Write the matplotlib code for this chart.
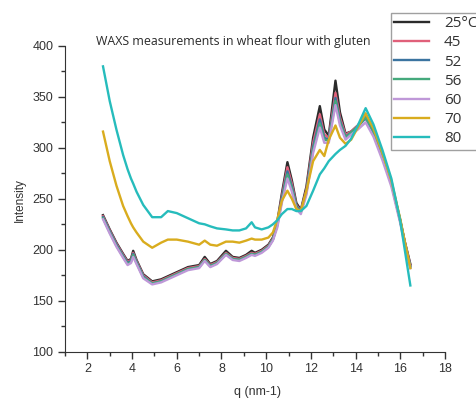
import matplotlib.pyplot as plt
from matplotlib.ticker import MultipleLocator

# q grid shared by all temperatures (nm-1)
q = [2.7, 3.0, 3.3, 3.6, 3.8, 3.95, 4.05, 4.2, 4.5, 4.9, 5.3, 5.6, 6.0, 6.5, 7.0, 7.25, 7.5,
     7.8, 8.2, 8.5, 8.8, 9.1, 9.35, 9.5, 9.8, 10.1, 10.3, 10.5, 10.7, 10.95, 11.15, 11.35,
     11.55, 11.8, 12.1, 12.4, 12.6, 12.8, 13.1, 13.3, 13.55, 13.8, 14.1, 14.45, 14.8, 15.2,
     15.6, 16.0, 16.2, 16.45]

labels = ['25°C', '45', '52', '56', '60', '70', '80']
colors = ['#2b2b2b', '#e0607a', '#3b74a0', '#45a97c', '#bf98d8', '#d9ac1e', '#26bcbc']

i25 = [234, 220, 207, 196, 189, 191, 199, 190, 176, 169, 171, 174, 178, 183, 185, 193, 186,
       189, 199, 193, 192, 195, 199, 197, 200, 205, 212, 228, 255, 286, 268, 246,
       239, 262, 310, 341, 318, 312, 366, 335, 314, 316, 322, 331, 316, 292,
       265, 228, 208, 186]
i45 = [233, 219, 206, 195, 188, 190, 197, 189, 175, 168, 170, 173, 177, 182, 184, 191, 185,
       188, 197, 192, 191, 194, 197, 196, 199, 204, 211, 226, 252, 281, 265, 244,
       238, 259, 305, 333, 313, 310, 354, 330, 313, 316, 322, 332, 317, 293,
       266, 229, 208, 185]
i52 = [232, 218, 205, 194, 187, 189, 196, 188, 174, 167, 169, 172, 176, 181, 183, 190, 184,
       187, 196, 191, 190, 193, 196, 195, 198, 203, 210, 225, 250, 277, 262, 243,
       237, 257, 301, 328, 310, 308, 349, 327, 311, 315, 321, 329, 315, 292,
       265, 228, 207, 184]
i56 = [231, 217, 204, 193, 186, 188, 195, 187, 173, 167, 169, 172, 176, 181, 183, 190, 184,
       187, 196, 191, 190, 193, 196, 195, 198, 203, 210, 224, 248, 274, 260, 242,
       237, 256, 298, 324, 308, 307, 346, 325, 310, 315, 321, 330, 316, 293,
       266, 229, 207, 183]
i60 = [230, 216, 203, 192, 185, 187, 193, 186, 172, 166, 168, 171, 175, 180, 182, 189, 183,
       186, 195, 190, 189, 192, 195, 194, 197, 202, 209, 222, 246, 270, 257, 240,
       235, 254, 295, 320, 305, 305, 342, 322, 308, 313, 318, 325, 311, 288,
       262, 226, 205, 182]
i70 = [316, 287, 263, 243, 233, 226, 222, 217, 208, 202, 207, 210, 210, 208, 205, 209, 205,
       204, 208, 208, 207, 209, 211, 210, 210, 212, 217, 230, 248, 258, 250, 240,
       238, 258, 287, 298, 292, 308, 322, 310, 304, 308, 320, 334, 319, 295,
       268, 230, 208, 182]
i80 = [380, 346, 318, 293, 279, 270, 265, 257, 244, 232, 232, 238, 236, 231, 226, 225, 223,
       221, 220, 219, 219, 221, 227, 222, 220, 222, 225, 229, 235, 240, 240, 238,
       238, 243, 258, 274, 280, 287, 294, 298, 302, 309, 322, 339, 323, 298,
       270, 228, 200, 165]
series = [i25, i45, i52, i56, i60, i70, i80]

plt.rcParams['font.family'] = ['Liberation Sans', 'DejaVu Sans']

fig = plt.figure(figsize=(4.77, 4.0), dpi=100)
ax = fig.add_axes([0.1363, 0.1208, 0.7966, 0.7642])

for y, c, lab in zip(series, colors, labels):
    ax.plot(q, y, color=c, lw=1.7, label=lab)

ax.set_xlim(1, 18)
ax.set_ylim(100, 400)
ax.xaxis.set_major_locator(MultipleLocator(2))
ax.xaxis.set_minor_locator(MultipleLocator(1))
ax.yaxis.set_major_locator(MultipleLocator(50))
ax.yaxis.set_minor_locator(MultipleLocator(25))
ax.tick_params(which='major', direction='out', length=5, width=1, colors='#333333', labelsize=9)
ax.tick_params(which='minor', direction='out', length=3, width=1, colors='#333333')
for s in ['top', 'right']:
    ax.spines[s].set_visible(False)
for s in ['left', 'bottom']:
    ax.spines[s].set_color('#333333')

fig.text(20 / 477, 1 - 200 / 400, 'Intensity', rotation=90, ha='center', va='center',
         fontsize=8.5, color='#333333')
fig.text(258 / 477, 1 - 392 / 400, 'q (nm-1)', ha='center', va='center',
         fontsize=9, color='#333333')
fig.text(96 / 477, 1 - 41.7 / 400, 'WAXS measurements in wheat flour with gluten',
         ha='left', va='center', fontsize=8.9, color='#2a2a2a', family=['Open Sans', 'DejaVu Sans'])

leg = fig.legend(loc='upper left', bbox_to_anchor=(390.7 / 477, 1 - 12.7 / 400),
                 frameon=True, fancybox=False, borderpad=0.23, borderaxespad=0,
                 handlelength=2.3, handletextpad=0.95, labelspacing=0.275,
                 prop={'family': ['Open Sans', 'DejaVu Sans'], 'size': 11})
leg.get_frame().set_edgecolor('#888888')
leg.get_frame().set_linewidth(1)
for t in leg.get_texts():
    t.set_color('#333333')

fig.savefig('out.png', dpi=100)
